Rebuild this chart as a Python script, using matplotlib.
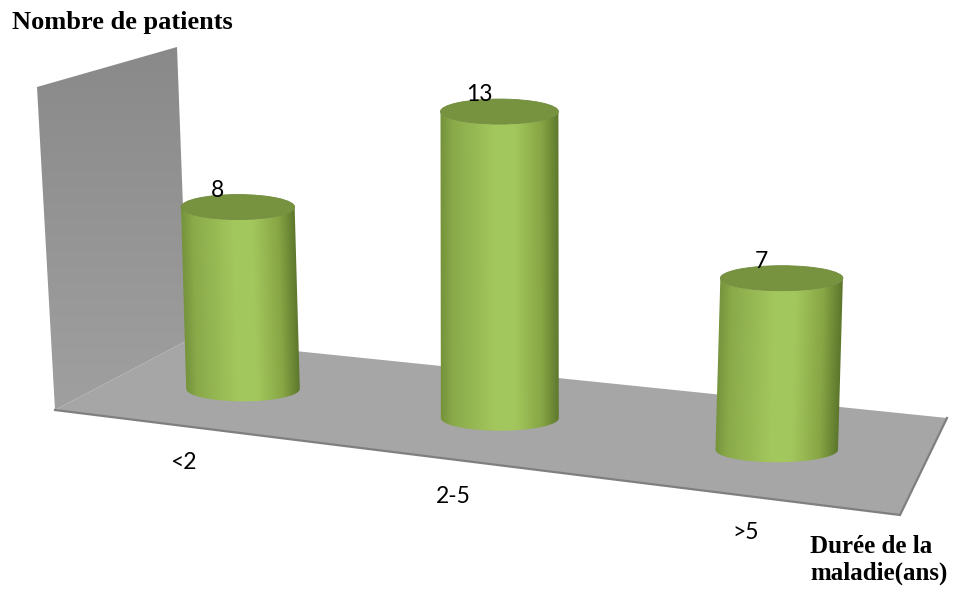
import numpy as np
import matplotlib.pyplot as plt
from matplotlib.patches import Polygon, Ellipse

categories = ["<2", "2-5", ">5"]
patients = [8, 13, 7]

W, H = 954, 593
fig = plt.figure(figsize=(W / 100, H / 100), dpi=100)
ax = fig.add_axes([0, 0, 1, 1])
ax.set_xlim(0, W)
ax.set_ylim(H, 0)
ax.axis("off")

# floor quad (back-left, back-right, front-right, front-left) and side wall
floor_bl, floor_br = np.array([188, 340]), np.array([947, 418])
floor_fr, floor_fl = np.array([900, 515]), np.array([55, 410])
wall = np.array([[37, 87], [177, 47], floor_bl, floor_fl])

PERSP = 1.12      # depth ratio between left and right end of the floor
UNIT = 25.0       # pixels per patient at unit depth
RADIUS = 62.5
RY = 12.5
VANISH_X = 510


def floor_point(u, d):
    back = floor_bl + u * (floor_br - floor_bl)
    front = floor_fl + u * (floor_fr - floor_fl)
    return back + d * (front - back)


def persp(t):
    depth = t + PERSP * (1 - t)
    return t / depth, depth


def gradient_fill(img, extent, clip):
    im = ax.imshow(img, extent=extent, origin="upper", interpolation="bilinear",
                   zorder=clip.get_zorder())
    im.set_clip_path(clip)


# side wall with a soft vertical gradient
wall_patch = Polygon(wall, closed=True, facecolor="none", edgecolor="none", zorder=1)
ax.add_patch(wall_patch)
ys = np.linspace(40, 415, 200)
g = np.interp(ys, [40, 415], [137, 160]) / 255
wall_img = np.repeat(np.stack([g, g, g], axis=1)[:, None, :], 2, axis=1)
gradient_fill(wall_img, (30, 195, 415, 40), wall_patch)

floor = Polygon([floor_bl, floor_br, floor_fr, floor_fl], closed=True,
                facecolor="#a6a6a6", edgecolor="none", zorder=2)
ax.add_patch(floor)
ax.plot([floor_fl[0], floor_fr[0], floor_br[0]], [floor_fl[1], floor_fr[1], floor_br[1]],
        color="#7f7f7f", lw=1.6, zorder=2, solid_joinstyle="miter")

# horizontal shading across a cylinder body
shade_t = [0.0, 0.1, 0.45, 0.62, 0.85, 1.0]
shade_c = np.array([[118, 148, 60], [138, 170, 74], [163, 199, 93],
                    [163, 199, 93], [135, 165, 68], [92, 118, 44]]) / 255

n = len(categories)
for i, (cat, val) in enumerate(zip(categories, patients)):
    u, depth = persp((i + 0.5) / n)
    bx, by = floor_point(u, 0.5)
    rx = RADIUS / depth
    h = val * UNIT / depth
    tx = bx + 1.07e-4 * (bx - VANISH_X) * h
    ty = by - h

    th = np.linspace(0, np.pi, 80)
    bottom = np.column_stack([bx + rx * np.cos(th[::-1]), by + RY * np.sin(th[::-1])])
    top = np.column_stack([tx + rx * np.cos(th), ty + RY * np.sin(th)])
    body = Polygon(np.vstack([bottom, top]), closed=True, facecolor="none",
                   edgecolor="none", zorder=3)
    ax.add_patch(body)

    x0, x1 = min(bx, tx) - rx - 2, max(bx, tx) + rx + 2
    y0, y1 = ty - RY - 2, by + RY + 2
    xs = np.arange(x0, x1, 1.0)
    yy = np.arange(y0, y1, 1.0)
    X, Y = np.meshgrid(xs, yy)
    v = np.clip((Y - ty) / (by - ty), 0, 1)
    cx = tx + (bx - tx) * v
    t = np.clip((X - (cx - rx)) / (2 * rx), 0, 1)
    img = np.stack([np.interp(t, shade_t, shade_c[:, k]) for k in range(3)], axis=-1)
    gradient_fill(img, (x0, x1, y1, y0), body)

    ax.add_patch(Ellipse((tx, ty), 2 * rx, 2 * RY, facecolor="#78933f",
                         edgecolor="#6f8a3c", lw=0.6, zorder=4))

    ax.text(tx - 20, ty - RY + 2, str(val), fontsize=16.5, family="Lato",
            ha="center", va="baseline", zorder=5)

    fx, fy = floor_point(u, 1.0)
    ax.text(fx, fy + 37, cat, fontsize=16.5, family="Lato",
            ha="center", va="center", zorder=5)

ax.text(12, 22, "Nombre de patients", fontsize=19, family="Liberation Serif",
        fontweight="bold", ha="left", va="center")
ax.text(810, 560, "Durée de la\nmaladie(ans)", fontsize=18, family="Liberation Serif",
        fontweight="bold", ha="left", va="center", linespacing=1.2)

fig.savefig("out.png", dpi=100)
